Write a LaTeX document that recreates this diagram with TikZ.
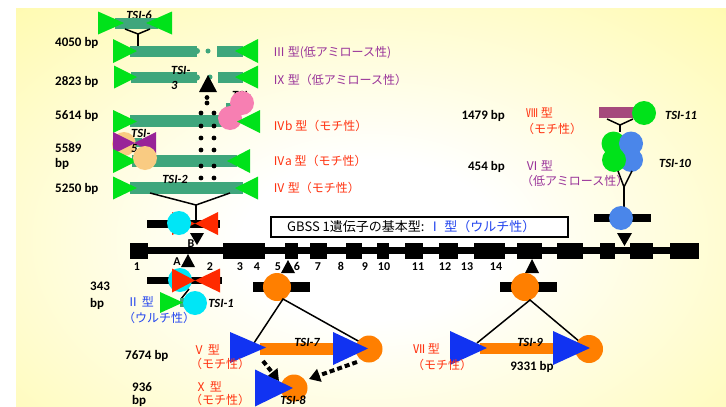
\documentclass[tikz,border=0pt]{standalone}
\usepackage{fontspec}
\setmainfont{Carlito}
\newfontfamily\jp{Noto Sans CJK JP}
\usetikzlibrary{arrows.meta}
\definecolor{bgy}{HTML}{FFF778}
\definecolor{barg}{HTML}{3FA67C}
\definecolor{brg}{HTML}{00E21A}
\definecolor{cyanc}{HTML}{00E6F6}
\definecolor{redc}{HTML}{FF2A00}
\definecolor{orc}{HTML}{FF7F00}
\definecolor{bluet}{HTML}{1133F2}
\definecolor{bluec}{HTML}{4A86EA}
\definecolor{pinkc}{HTML}{F77FB2}
\definecolor{peach}{HTML}{F9CB82}
\definecolor{purc}{HTML}{982398}
\definecolor{mauve}{HTML}{A54A7C}
\definecolor{txtred}{HTML}{FF3311}
\definecolor{txtpur}{HTML}{993399}
\definecolor{txtblue}{HTML}{2244EE}
\pgfdeclareradialshading{bgshade}{\pgfpoint{0bp}{0bp}}{color(0bp)=(white); color(8bp)=(white); color(50bp)=(bgy); color(90bp)=(bgy)}
\newcommand\TriR[5]{\fill[#5] (#1,#2-#3) -- (#1+#4,#2) -- (#1,#2+#3) -- cycle;}
\newcommand\TriL[5]{\fill[#5] (#1,#2-#3) -- (#1-#4,#2) -- (#1,#2+#3) -- cycle;}
\begin{document}
\begin{tikzpicture}[x=1pt,y=-1pt,
  bpl/.style={font=\fontsize{13}{13}\selectfont\bfseries,inner sep=0pt,text height=9.5pt,text depth=1.2pt},
  num/.style={font=\fontsize{12}{12}\selectfont\bfseries,inner sep=0pt,text height=8.8pt,text depth=1pt},
  tsi/.style={font=\fontsize{12.5}{12.5}\selectfont\bfseries\itshape,inner sep=0pt,text height=9pt,text depth=1pt},
  jpl/.style={font=\jp\fontsize{12}{12}\selectfont,inner sep=0pt,anchor=west,text height=10.4pt,text depth=1.2pt},
  conn/.style={line width=1.5pt},
  dash arrow/.style={line width=4pt,dash pattern=on 5pt off 3pt,-{Triangle[length=11pt,width=13pt]}}
]
\useasboundingbox (0,0) rectangle (726,407);
% background
\fill[white] (0,0) rectangle (726,407);
\begin{scope}
\clip (16,8) rectangle (726,407);
\shade[shading=bgshade] (-30,-10) rectangle (770,490);
\end{scope}

% ---------- TSI-6 ----------
\node[tsi] (t6) at (139,15) {TSI-6};
\fill[barg] (115,18) rectangle (158,29);
\TriR{98}{23}{11.5}{26}{brg}
\TriL{172}{23}{11.5}{26}{brg}
\coordinate (y6a) at (125,29); \coordinate (y6b) at (150,29);
\coordinate (y6j) at (138,34); \coordinate (y6e) at (138,45.5);
\draw[conn] (y6a) -- (y6j) -- (y6b); \draw[conn] (y6j) -- (y6e);

% ---------- row III ----------
\fill[barg] (130,45.5) rectangle (197,56.5);
\fill[barg] (197,51) circle[radius=3pt];
\fill[barg] (208,51) circle[radius=2.5pt];
\fill[barg] (217,45.5) rectangle (243,56.5);
\TriR{113}{51}{12}{24}{brg}
\TriL{258}{51}{12}{23}{brg}

% ---------- row IX ----------
\fill[barg] (131,72) rectangle (197,83);
\fill[barg] (197,77.5) circle[radius=3pt];
\fill[barg] (210,77) circle[radius=2.5pt];
\fill[barg] (218,72) rectangle (243,83);
\TriR{114}{77}{11.5}{23}{brg}
\TriL{258}{77}{11.5}{23}{brg}
\node[tsi,anchor=west] (t3a) at (171,70) {TSI-};
\node[tsi,anchor=west] (t3b) at (171,85) {3};

% ---------- row IVb ----------
\fill[barg] (130,115) rectangle (227,127);
\TriR{113}{121.5}{11.5}{24}{brg}
\fill[barg] (226,103) rectangle (233,115);
\node[tsi,anchor=west] (t4a) at (232,95) {TSI-};
\node[tsi,anchor=west] (t4b) at (232,110) {4};
\fill[pinkc] (242,103) circle[radius=12pt];
\fill[pinkc] (230,118) circle[radius=12pt];
\TriL{260}{121.5}{11.5}{23}{brg}

% ---------- TSI-5 ----------
\fill[barg] (130,138) rectangle (142,147);
\fill[peach] (124,144) circle[radius=12pt];
\node[tsi,anchor=west] (t5a) at (131,133) {TSI-};
\node[tsi,anchor=west] (t5b) at (131,148) {5};
\TriR{113}{143}{11}{22}{purc}
\TriL{156}{143}{11}{22}{purc}

% ---------- row IVa ----------
\fill[barg] (132,155) rectangle (237,167);
\TriR{113}{161}{12}{24}{brg}
\TriL{250}{161}{12}{23}{brg}
\fill[peach] (145,158) circle[radius=12pt];

% ---------- row IV ----------
\fill[barg] (130,182) rectangle (243,194);
\TriR{113}{188}{11.5}{24}{brg}
\TriL{258}{188}{11.5}{23}{brg}
\node[tsi] (t2) at (175,179) {TSI-2};

% dotted arrow
\foreach \yy in {113,126,138,150,166,178} {
  \fill (201,\yy) circle[radius=2.4pt];
  \fill (214,\yy) circle[radius=2.4pt];
}
\fill (207,97.5) circle[radius=2.4pt];
\fill (207,103) circle[radius=2.4pt];
\fill (199,92) -- (208,75) -- (217,92) -- cycle;

% left bp labels
\node[bpl,anchor=west] (b4050) at (55,42) {4050 bp};
\node[bpl,anchor=west] (b2823) at (55,81) {2823 bp};
\node[bpl,anchor=west] (b5614) at (55,115) {5614 bp};
\node[bpl,anchor=west] (b5589a) at (55,148) {5589};
\node[bpl,anchor=west] (b5589b) at (55,163) {bp};
\node[bpl,anchor=west] (b5250) at (55,188) {5250 bp};

% type labels
\node[jpl,text=txtpur] (ty3) at (273,52) {Ⅲ 型(低アミロース性)};
\node[jpl,text=txtpur] (ty9) at (273,80) {Ⅸ 型（低アミロース性）};
\node[jpl,text=txtred] (ty4b) at (273,126) {Ⅳb 型（モチ性）};
\node[jpl,text=txtred] (ty4a) at (273,161) {Ⅳa 型（モチ性）};
\node[jpl,text=txtred] (ty4) at (273,188) {Ⅳ 型（モチ性）};

% Y connector to B site
\coordinate (y2a) at (150,193); \coordinate (y2b) at (230,193);
\coordinate (y2j) at (196,205); \coordinate (y2e) at (196,220);
\draw[conn] (y2a) -- (y2j) -- (y2b); \draw[conn] (y2j) -- (y2e);

% B site
\fill (147,219.5) rectangle (220,227.5);
\TriR{172}{223.5}{11.5}{23}{redc}
\TriL{218}{223.5}{11.5}{23}{redc}
\fill[cyanc] (179,223) circle[radius=12pt];
\node[num] (lB) at (191,244) {B};
\fill (190,233) -- (204,233) -- (197,245) -- cycle;

% ---------- main gene ----------
\draw[line width=7pt] (130,250) -- (699,250);
\foreach \a/\b in {130/148,223/265,285/298,310/327,346/362,377/389,405/423,439/458,474/505,517/542,557/583,600/615,630/653,670/699}
  \fill (\a,242.5) rectangle (\b,258.5);
\foreach \n/\xx in {1/137,2/210,3/240,4/257,5/278,6/297,7/318,8/341,9/365,10/384,11/418,12/445,13/467,14/496}
  \node[num] (n\n) at (\xx,267) {\n};

% box
\draw[line width=1.6pt,fill=white] (271,217) rectangle (568,237);
\node[font=\jp\fontsize{13}{13}\selectfont,inner sep=0pt,anchor=west,text height=10.5pt,text depth=1.5pt] (box) at (287,227) {GBSS 1遺伝子の基本型: \textcolor{txtblue}{Ⅰ 型（ウルチ性）}};

% ---------- A site / TSI-1 ----------
\node[num] (lA) at (177,262) {A};
\fill (181,267) -- (195,267) -- (188,254) -- cycle;
\fill (147,277) rectangle (222,284);
\fill[cyanc] (180,280) circle[radius=12pt];
\TriR{172}{280.5}{12}{23}{redc}
\TriL{220}{280.5}{12}{25}{redc}
\coordinate (a1) at (189,289); \coordinate (a2) at (181,299);
\draw[conn] (a1) -- (a2);
\fill[barg] (180,298) rectangle (190,307);
\TriR{160}{302.5}{10.5}{23}{brg}
\fill[cyanc] (195,303) circle[radius=12pt];
\node[tsi] (t1) at (221,303) {TSI-1};
\node[bpl,anchor=west] (b343a) at (90,286) {343};
\node[bpl,anchor=west] (b343b) at (90,303) {bp};
\node[jpl,text=txtblue] (ty2a) at (127,302) {Ⅱ 型};
\node[jpl,text=txtblue] (ty2b) at (123,318) {（ウルチ性）};

% ---------- 5/6 site, V and X ----------
\fill (281,273) -- (295,273) -- (288,260) -- cycle;
\fill (253,282) rectangle (310,292);
\fill[orc] (277,287) circle[radius=14pt];
\coordinate (v0) at (283,299); \coordinate (vl) at (254,343); \coordinate (vr) at (360,342);
\draw[conn] (vl) -- (v0) -- (vr);
\fill[orc] (260,343) rectangle (343,355);
\fill[orc] (369,349) circle[radius=13.5pt];
\TriR{230}{347.5}{15.5}{36}{bluet}
\TriR{333}{348.5}{16.5}{35}{bluet}
\node[tsi] (t7) at (307,342) {TSI-7};
\node[bpl,anchor=west] (b7674) at (125,355) {7674 bp};
\node[jpl,text=txtred] (ty5a) at (193,350) {Ⅴ 型};
\node[jpl,text=txtred] (ty5b) at (190,364) {（モチ性）};
\coordinate (d1s) at (263,361); \coordinate (d1e) at (279,381);
\coordinate (d2s) at (357,362); \coordinate (d2e) at (309,379);
\draw[dash arrow] (d1s) -- (d1e);
\draw[dash arrow] (d2s) -- (d2e);
\fill[orc] (294,388) circle[radius=13.5pt];
\TriR{255}{388}{18.5}{38}{bluet}
\node[tsi] (t8) at (293,400) {TSI-8};
\node[bpl,anchor=west] (b936a) at (132,387) {936};
\node[bpl,anchor=west] (b936b) at (132,400) {bp};
\node[jpl,text=txtred] (ty10a) at (195,387) {Ⅹ 型};
\node[jpl,text=txtred] (ty10b) at (190,400) {（モチ性）};

% ---------- VII ----------
\fill (525,273) -- (539,273) -- (532,259) -- cycle;
\fill (500,282) rectangle (557,292);
\fill[orc] (525,287) circle[radius=14pt];
\coordinate (w0) at (530,300); \coordinate (wl) at (477,343); \coordinate (wr) at (580,342);
\draw[conn] (wl) -- (w0) -- (wr);
\fill[orc] (480,343) rectangle (557,354);
\fill[orc] (589,349) circle[radius=14pt];
\TriR{450}{348}{17}{37}{bluet}
\TriR{553}{348}{17}{37}{bluet}
\node[tsi] (t9) at (530,342) {TSI-9};
\node[bpl] (b9331) at (532,366) {9331 bp};
\node[jpl,text=txtred] (ty7a) at (413,349) {Ⅶ 型};
\node[jpl,text=txtred] (ty7b) at (412,365) {（モチ性）};

% ---------- right top: TSI-11, TSI-10 ----------
\fill[mauve] (599,107) rectangle (637,118);
\fill[brg] (644,113) circle[radius=12pt];
\node[tsi] (t11) at (681,115) {TSI-11};
\coordinate (r1a) at (607,119); \coordinate (r1b) at (633,119);
\coordinate (r1j) at (620,125); \coordinate (r1e) at (620,132);
\draw[conn] (r1a) -- (r1j) -- (r1b); \draw[conn] (r1j) -- (r1e);
\fill[brg] (613.5,143.5) circle[radius=12pt];
\fill[bluec] (631,143.5) circle[radius=12pt];
\fill[bluec] (631,160) circle[radius=12pt];
\fill[brg] (614,160) circle[radius=12pt];
\node[tsi] (t10) at (675,163) {TSI-10};
\coordinate (r2a) at (618,171); \coordinate (r2b) at (632,171);
\coordinate (r2j) at (624,187); \coordinate (r2e) at (624,214);
\draw[conn] (r2a) -- (r2j) -- (r2b); \draw[conn] (r2j) -- (r2e);
\fill (594,214) rectangle (651,222);
\fill[bluec] (621,218) circle[radius=12pt];
\fill (617,233) -- (632,233) -- (624.5,246) -- cycle;
\node[bpl,anchor=east] (b1479) at (505,115) {1479 bp};
\node[bpl,anchor=east] (b454) at (505,166) {454 bp};
\node[jpl,text=txtred] (ty8a) at (526,113) {Ⅷ 型};
\node[jpl,text=txtred] (ty8b) at (522,129) {（モチ性）};
\node[jpl,text=txtpur] (ty6a) at (526,166) {Ⅵ 型};
\node[jpl,text=txtpur] (ty6b) at (521,181) {（低アミロース性）};
\end{tikzpicture}
\end{document}
